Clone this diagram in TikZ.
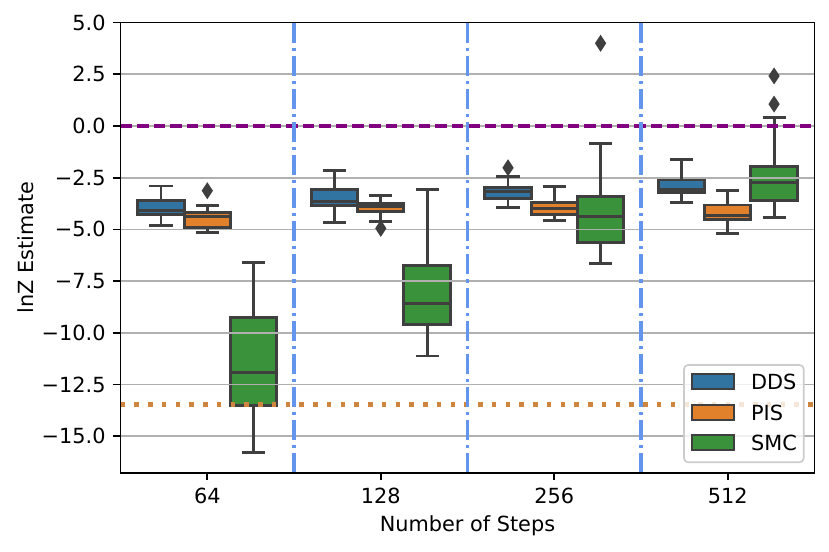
\documentclass[tikz,border=0pt]{standalone}
\usepackage{fontspec}
\setmainfont{DejaVu Sans}
\definecolor{dds}{HTML}{3274A1}
\definecolor{pis}{HTML}{E1812C}
\definecolor{smc}{HTML}{3A923A}
\definecolor{lc}{HTML}{3F3F3F}
\definecolor{gridc}{HTML}{B0B0B0}
\definecolor{legedge}{HTML}{CCCCCC}
\definecolor{refblue}{HTML}{6495ED}
\definecolor{refperu}{HTML}{CD853F}
\definecolor{refpurple}{HTML}{800080}
\pgfdeclarelayer{boxes}
\pgfsetlayers{boxes,main}
\tikzset{
  boxline/.style={draw=lc, line width=1.4pt},
  gridline/.style={draw=gridc, line width=0.8pt},
  axisline/.style={draw=black, line width=0.8pt},
  ticklab/.style={inner sep=0pt, font=\fontsize{10}{12}\selectfont},
  outlier/.style={fill=lc, draw=none}
}
% #1 center, #2 colour, #3 low whisker, #4 q1, #5 median, #6 q3, #7 high whisker
\newcommand\bxp[7]{%
  \begin{pgfonlayer}{boxes}
    \filldraw[boxline, fill=#2] ({#1-0.1333},#4) rectangle ({#1+0.1333},#6);
  \end{pgfonlayer}
  \draw[boxline] (#1,#3) -- (#1,#4) (#1,#6) -- (#1,#7);
  \draw[boxline] ({#1-0.0667},#3) -- ({#1+0.0667},#3) ({#1-0.0667},#7) -- ({#1+0.0667},#7);
  \draw[boxline] ({#1-0.1333},#5) -- ({#1+0.1333},#5);
}
\newcommand\outl[2]{%
  \fill[outlier] (#1,#2) +(0,4.1pt) -- +(2.7pt,0) -- +(0,-4.1pt) -- +(-2.7pt,0) -- cycle;
}
\begin{document}
\begin{tikzpicture}[x=0.48pt, y=-0.48pt]
\useasboundingbox (0,0) rectangle (829,551);
\begin{scope}[shift={(207.3,126)}, x=83.28pt, y=9.926pt]
  % grid
  \foreach \v in {5,2.5,0,-2.5,-5,-7.5,-10,-12.5,-15}
    \draw[gridline] (-0.5,\v) -- (3.5,\v);
  % group 64
  \bxp{-0.2667}{dds}{-4.79}{-4.30}{-4.10}{-3.59}{-2.90}
  \bxp{0}{pis}{-5.17}{-4.93}{-4.39}{-4.19}{-3.85}
  \outl{0}{-3.13}
  \bxp{0.2667}{smc}{-15.78}{-13.52}{-11.91}{-9.28}{-6.58}
  % group 128
  \bxp{0.7333}{dds}{-4.67}{-3.85}{-3.63}{-3.06}{-2.16}
  \bxp{1}{pis}{-4.63}{-4.14}{-3.90}{-3.74}{-3.37}
  \outl{1}{-4.95}
  \bxp{1.2667}{smc}{-11.12}{-9.62}{-8.58}{-6.74}{-3.09}
  % group 256
  \bxp{1.7333}{dds}{-3.93}{-3.50}{-3.18}{-2.98}{-2.42}
  \outl{1.7333}{-2.02}
  \bxp{2}{pis}{-4.56}{-4.30}{-3.98}{-3.68}{-2.93}
  \bxp{2.2667}{smc}{-6.66}{-5.64}{-4.38}{-3.40}{-0.85}
  \outl{2.2667}{4.00}
  % group 512
  \bxp{2.7333}{dds}{-3.71}{-3.22}{-3.05}{-2.60}{-1.60}
  \bxp{3}{pis}{-5.22}{-4.50}{-4.34}{-3.82}{-3.14}
  \bxp{3.2667}{smc}{-4.41}{-3.61}{-2.71}{-1.97}{0.42}
  \outl{3.2667}{1.06}
  \outl{3.2667}{2.42}
  % reference lines
  \draw[refpurple, line width=1.5pt, dash pattern=on 5.55pt off 2.4pt] (-0.5,0) -- (3.5,0);
  \draw[refperu, line width=2.2pt, dash pattern=on 2.2pt off 4.4pt] (-0.5,-13.46) -- (3.5,-13.46);
  \foreach \c in {0.5,1.5,2.5}
    \draw[refblue, line width=1.5pt, dash pattern=on 9.6pt off 2.4pt on 1.5pt off 2.4pt] (\c,5) -- (\c,-16.77);
  % frame
  \draw[axisline] (-0.5,-16.77) rectangle (3.5,5);
  % x ticks
  \foreach \c/\l in {0/64,1/128,2/256,3/512} {
    \draw[axisline] (\c,-16.77) -- ++(0,-3.5pt);
    \node[ticklab, anchor=north] at ([yshift=-7pt]\c,-16.77) {\l};
  }
  % y ticks
  \foreach \v/\l in {5/5.0,2.5/2.5,0/0.0,-2.5/−2.5,-5/−5.0,-7.5/−7.5,-10/−10.0,-12.5/−12.5,-15/−15.0} {
    \draw[axisline] (-0.5,\v) -- ++(-3.5pt,0);
    \node[ticklab, anchor=east] at ([xshift=-7pt]-0.5,\v) {\l};
  }
\end{scope}
% axis labels
\node[ticklab, anchor=base] (xlab) at (467.5,531.5) {Number of Steps};
\node[ticklab, anchor=base, rotate=90] (ylab) at (33.3,247.7) {lnZ Estimate};
% legend
\filldraw[draw=legedge, fill=white, fill opacity=0.8, line width=0.8pt, rounded corners=2pt] (684,365) rectangle (803.7,462.3);
\foreach \col/\lab/\yy in {dds/DDS/381.7, pis/PIS/412.7, smc/SMC/442.7} {
  \filldraw[fill=\col, draw=lc, line width=0.9pt] (692,\yy-7.5) rectangle (734,\yy+7.5);
  \node[ticklab, anchor=west] at (750.7,\yy) {\lab};
}
\end{tikzpicture}
\end{document}
